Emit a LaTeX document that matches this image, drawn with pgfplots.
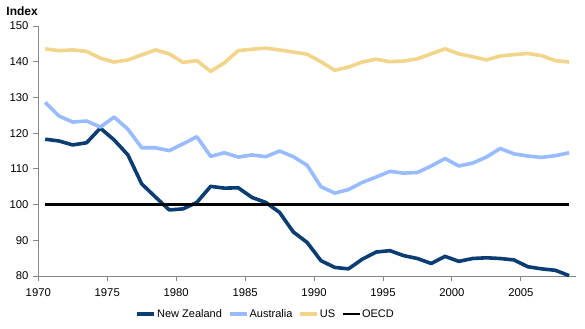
\documentclass[border=0pt]{standalone}
\usepackage{pgfplots}
\pgfplotsset{compat=1.18}
\usepackage{pgfplotstable}
\usepackage{fontspec}
\setmainfont{Liberation Sans}

\definecolor{nzblue}{RGB}{10,62,115}
\definecolor{aublue}{RGB}{153,187,255}
\definecolor{ustan}{RGB}{242,212,138}
\definecolor{axisgray}{RGB}{134,134,134}

% Real exchange rate index, annual values (OECD = 100)
\pgfplotstableread{
year  NZ     AU     US     OECD
1970  118.3  128.6  143.6  100
1971  117.8  124.8  143.1  100
1972  116.7  123.1  143.3  100
1973  117.3  123.4  142.9  100
1974  121.4  121.7  141.0  100
1975  118.1  124.5  139.9  100
1976  113.9  121.1  140.5  100
1977  105.8  115.9  141.9  100
1978  102.1  115.9  143.3  100
1979   98.5  115.1  142.2  100
1980   98.8  117.0  139.8  100
1981  100.6  119.0  140.3  100
1982  105.1  113.5  137.3  100
1983  104.6  114.5  139.7  100
1984  104.7  113.3  143.1  100
1985  102.0  113.9  143.5  100
1986  100.6  113.4  143.8  100
1987   97.8  115.0  143.3  100
1988   92.3  113.4  142.7  100
1989   89.4  111.0  142.1  100
1990   84.3  105.0  140.0  100
1991   82.4  103.2  137.6  100
1992   82.0  104.2  138.5  100
1993   84.7  106.2  139.9  100
1994   86.7  107.7  140.7  100
1995   87.1  109.3  140.0  100
1996   85.7  108.8  140.2  100
1997   84.9  109.0  140.8  100
1998   83.5  110.8  142.2  100
1999   85.5  112.9  143.6  100
2000   84.1  110.8  142.2  100
2001   84.9  111.6  141.4  100
2002   85.1  113.3  140.5  100
2003   84.9  115.7  141.6  100
2004   84.5  114.2  142.0  100
2005   82.6  113.6  142.3  100
2006   82.0  113.2  141.7  100
2007   81.6  113.7  140.3  100
2008   80.1  114.5  139.9  100
}\rer

\begin{document}
\fontsize{11bp}{13bp}\selectfont
\begin{tikzpicture}
\begin{axis}[
  at={(0,0)}, anchor=south west,
  scale only axis,
  width=537.7bp, height=250bp,
  xmin=1970, xmax=2009,
  ymin=80, ymax=150,
  axis lines*=left,
  axis line style={axisgray, line width=0.9bp},
  xtick={1970,1975,...,2005},
  ytick={80,90,...,150},
  tick align=outside,
  major tick length=5bp,
  tick style={axisgray, line width=0.9bp},
  xticklabel style={/pgf/number format/1000 sep=, yshift=-4bp},
  yticklabel style={xshift=-1bp},
  /pgf/number format/assume math mode=true,
  ticklabel style={font=\fontsize{11.3bp}{13bp}\selectfont, text=black},
  legend columns=4,
  legend style={
    at={(0.422,-0.152)}, anchor=center,
    draw=none, fill=none,
    font=\fontsize{11bp}{13bp}\selectfont,
    inner sep=0pt,
    nodes={inner xsep=1bp, inner ysep=1bp},
    /tikz/every even column/.append style={column sep=5bp},
  },
  legend image code/.code={\draw[#1] (0bp,0bp) -- (17bp,0bp);},
  clip=false,
]
\addplot[nzblue, line width=3.6bp, line join=round] table[x expr=\thisrow{year}+0.5, y=NZ] {\rer};
\addlegendentry{New Zealand}
\addplot[aublue, line width=3.6bp, line join=round] table[x expr=\thisrow{year}+0.5, y=AU] {\rer};
\addlegendentry{Australia}
\addplot[ustan, line width=3.6bp, line join=round] table[x expr=\thisrow{year}+0.5, y=US] {\rer};
\addlegendentry{US}
\addplot[black, line width=2.8bp] table[x expr=\thisrow{year}+0.5, y=OECD] {\rer};
\addlegendentry{OECD}
\end{axis}
\node[anchor=west, font=\bfseries\fontsize{12bp}{14bp}\selectfont, inner sep=0pt] at (-32bp,265bp) {Index};
\path (-38.3bp,-53bp) rectangle (546.7bp,276bp);
\end{tikzpicture}
\end{document}
